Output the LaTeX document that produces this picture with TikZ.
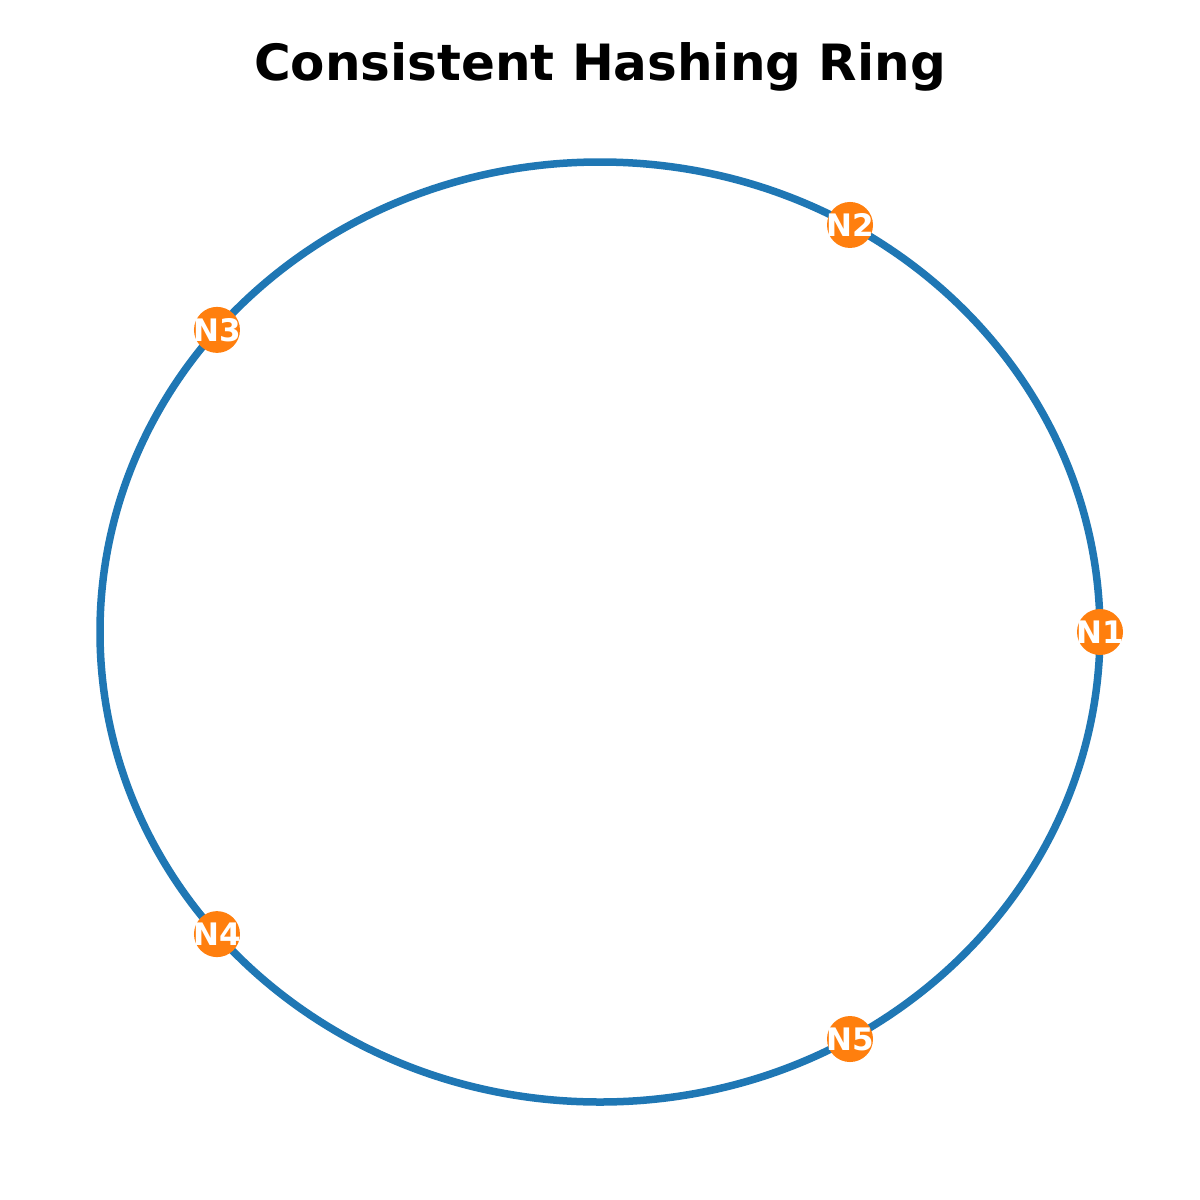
\documentclass[tikz,border=0pt]{standalone}
\usepackage{fontspec}
\setmainfont{DejaVu Sans}
\usetikzlibrary{calc}
\definecolor{mblue}{HTML}{1F77B4}
\definecolor{morange}{HTML}{FF7F0E}
\begin{document}
\begin{tikzpicture}[x=1pt,y=-1pt,
  ringnode/.style={circle,fill=morange,minimum size=46pt,inner sep=0pt},
  ringlabel/.style={text=white,font=\fontsize{31}{36}\selectfont\bfseries,inner sep=0pt},
  ringline/.style={draw=mblue,line width=7.5pt}]
\useasboundingbox[fill=white] (0,0) rectangle (1200,1200);
\node[font=\fontsize{50}{56}\selectfont\bfseries] (title) at (600,67) {Consistent Hashing Ring};
\coordinate (c) at (600,632);
\draw[ringline] (c) ellipse [x radius=500pt, y radius=470pt];
\foreach \a/\n in {0/1,60/2,140/3,220/4,300/5}{
  \node[ringnode,label={[ringlabel]center:N\n}] (n\n) at ($(c)+({500*cos(\a)},{-470*sin(\a)})$) {};
}
\end{tikzpicture}
\end{document}
